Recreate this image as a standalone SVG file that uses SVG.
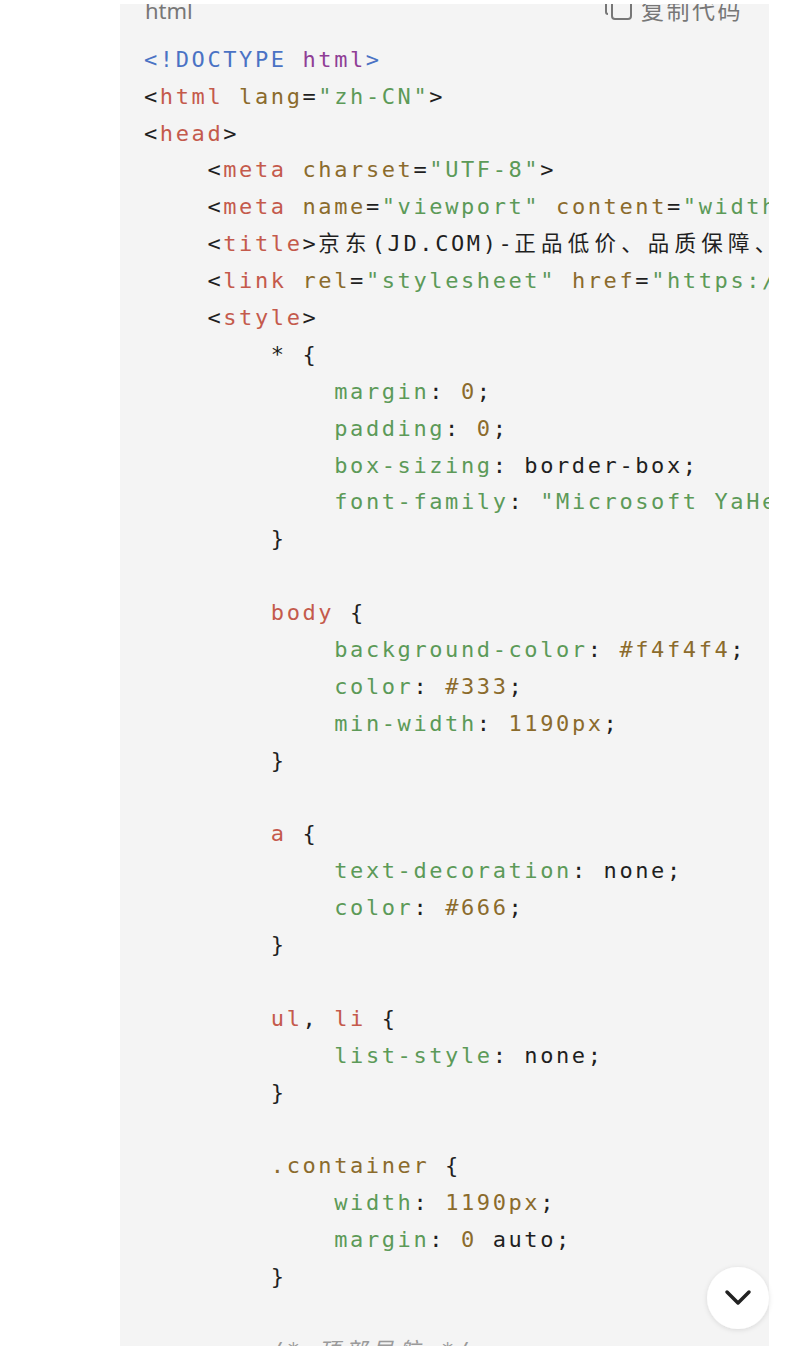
<svg xmlns="http://www.w3.org/2000/svg" width="800" height="1346" viewBox="0 0 800 1346">
<defs>
<style>
.code{font-family:"DejaVu Sans Mono","Liberation Mono","Noto Sans CJK SC",monospace;font-size:22px;letter-spacing:2.6px;fill:#1f1f1f;white-space:pre}
.cjk{font-family:"Noto Sans CJK SC","DejaVu Sans Mono",monospace;font-size:21.5px;letter-spacing:5.2px}
.p{fill:#1f1f1f}
.dt{fill:#4a72c4}
.kw{fill:#8f3e96}
.tg{fill:#c45a4c}
.at{fill:#8b6b2c}
.st{fill:#5c9a58}
.pr{fill:#5c9a58}
.nm{fill:#8b6b2c}
.cm{fill:#9a9a9a;font-style:italic}
.hdr{font-family:"Noto Sans","Liberation Sans","Noto Sans CJK SC",sans-serif;font-size:22px;fill:#777}
.hdrcjk{font-family:"Noto Sans CJK SC",sans-serif;font-size:23px;letter-spacing:2.5px;fill:#777}
</style>
<clipPath id="codeclip"><rect x="120" y="4" width="649" height="1342"/></clipPath>
<filter id="sh" x="-50%" y="-50%" width="200%" height="200%"><feDropShadow dx="0" dy="1" stdDeviation="2.5" flood-color="#000" flood-opacity="0.12"/></filter>
</defs>
<rect x="0" y="0" width="800" height="1346" fill="#ffffff"/>
<rect id="panel" x="120" y="4" width="649" height="1342" fill="#f4f4f4"/>
<g id="header" clip-path="url(#codeclip)">
<text class="hdr" x="145" y="19">html</text>
<path d="M606 4 L606 12 Q606 14 608 14" fill="none" stroke="#777" stroke-width="2"/>
<rect x="612" y="-6" width="19" height="25" rx="3" fill="none" stroke="#777" stroke-width="2"/>
<text class="hdrcjk" x="641" y="19">复制代码</text>
</g>
<g id="code" clip-path="url(#codeclip)">
<text class="code" x="144" y="66.7"><tspan class="dt">&lt;!DOCTYPE</tspan> <tspan class="kw">html</tspan><tspan class="dt">&gt;</tspan></text>
<text class="code" x="144" y="103.6">&lt;<tspan class="tg">html</tspan> <tspan class="at">lang</tspan>=<tspan class="st">"zh-CN"</tspan>&gt;</text>
<text class="code" x="144" y="140.5">&lt;<tspan class="tg">head</tspan>&gt;</text>
<text class="code" x="207.4" y="177.4">&lt;<tspan class="tg">meta</tspan> <tspan class="at">charset</tspan>=<tspan class="st">"UTF-8"</tspan>&gt;</text>
<text class="code" x="207.4" y="214.3">&lt;<tspan class="tg">meta</tspan> <tspan class="at">name</tspan>=<tspan class="st">"viewport"</tspan> <tspan class="at">content</tspan>=<tspan class="st">"width</tspan></text>
<text class="code" x="207.4" y="251.2">&lt;<tspan class="tg">title</tspan>&gt;<tspan class="cjk">京东</tspan>(JD.COM)-<tspan class="cjk">正品低价、品质保障、</tspan></text>
<text class="code" x="207.4" y="288">&lt;<tspan class="tg">link</tspan> <tspan class="at">rel</tspan>=<tspan class="st">"stylesheet"</tspan> <tspan class="at">href</tspan>=<tspan class="st">"https:/</tspan></text>
<text class="code" x="207.4" y="324.9">&lt;<tspan class="tg">style</tspan>&gt;</text>
<text class="code" x="270.8" y="361.8">* {</text>
<text class="code" x="334.2" y="398.7"><tspan class="pr">margin</tspan>: <tspan class="nm">0</tspan>;</text>
<text class="code" x="334.2" y="435.6"><tspan class="pr">padding</tspan>: <tspan class="nm">0</tspan>;</text>
<text class="code" x="334.2" y="472.5"><tspan class="pr">box-sizing</tspan>: border-box;</text>
<text class="code" x="334.2" y="509.4"><tspan class="pr">font-family</tspan>: <tspan class="st">"Microsoft YaHei</tspan></text>
<text class="code" x="270.8" y="546.3">}</text>
<text class="code" x="270.8" y="620"><tspan class="tg">body</tspan> {</text>
<text class="code" x="334.2" y="656.9"><tspan class="pr">background-color</tspan>: <tspan class="nm">#f4f4f4</tspan>;</text>
<text class="code" x="334.2" y="693.8"><tspan class="pr">color</tspan>: <tspan class="nm">#333</tspan>;</text>
<text class="code" x="334.2" y="730.7"><tspan class="pr">min-width</tspan>: <tspan class="nm">1190px</tspan>;</text>
<text class="code" x="270.8" y="767.6">}</text>
<text class="code" x="270.8" y="841.4"><tspan class="tg">a</tspan> {</text>
<text class="code" x="334.2" y="878.3"><tspan class="pr">text-decoration</tspan>: none;</text>
<text class="code" x="334.2" y="915.2"><tspan class="pr">color</tspan>: <tspan class="nm">#666</tspan>;</text>
<text class="code" x="270.8" y="952.1">}</text>
<text class="code" x="270.8" y="1025.8"><tspan class="tg">ul</tspan>, <tspan class="tg">li</tspan> {</text>
<text class="code" x="334.2" y="1062.7"><tspan class="pr">list-style</tspan>: none;</text>
<text class="code" x="270.8" y="1099.6">}</text>
<text class="code" x="270.8" y="1173.4"><tspan class="at">.container</tspan> {</text>
<text class="code" x="334.2" y="1210.3"><tspan class="pr">width</tspan>: <tspan class="nm">1190px</tspan>;</text>
<text class="code" x="334.2" y="1247.2"><tspan class="pr">margin</tspan>: <tspan class="nm">0</tspan> auto;</text>
<text class="code" x="270.8" y="1284.1">}</text>
<text class="code cm" x="270.8" y="1357.8">/* <tspan class="cjk">顶部导航</tspan> */</text>
</g>
<g id="scroll-button">
<circle cx="738" cy="1298" r="31" fill="#ffffff" filter="url(#sh)"/>
<polyline points="727,1292 738,1303 749,1292" fill="none" stroke="#222" stroke-width="3.5" stroke-linecap="round" stroke-linejoin="round"/>
</g>
</svg>
